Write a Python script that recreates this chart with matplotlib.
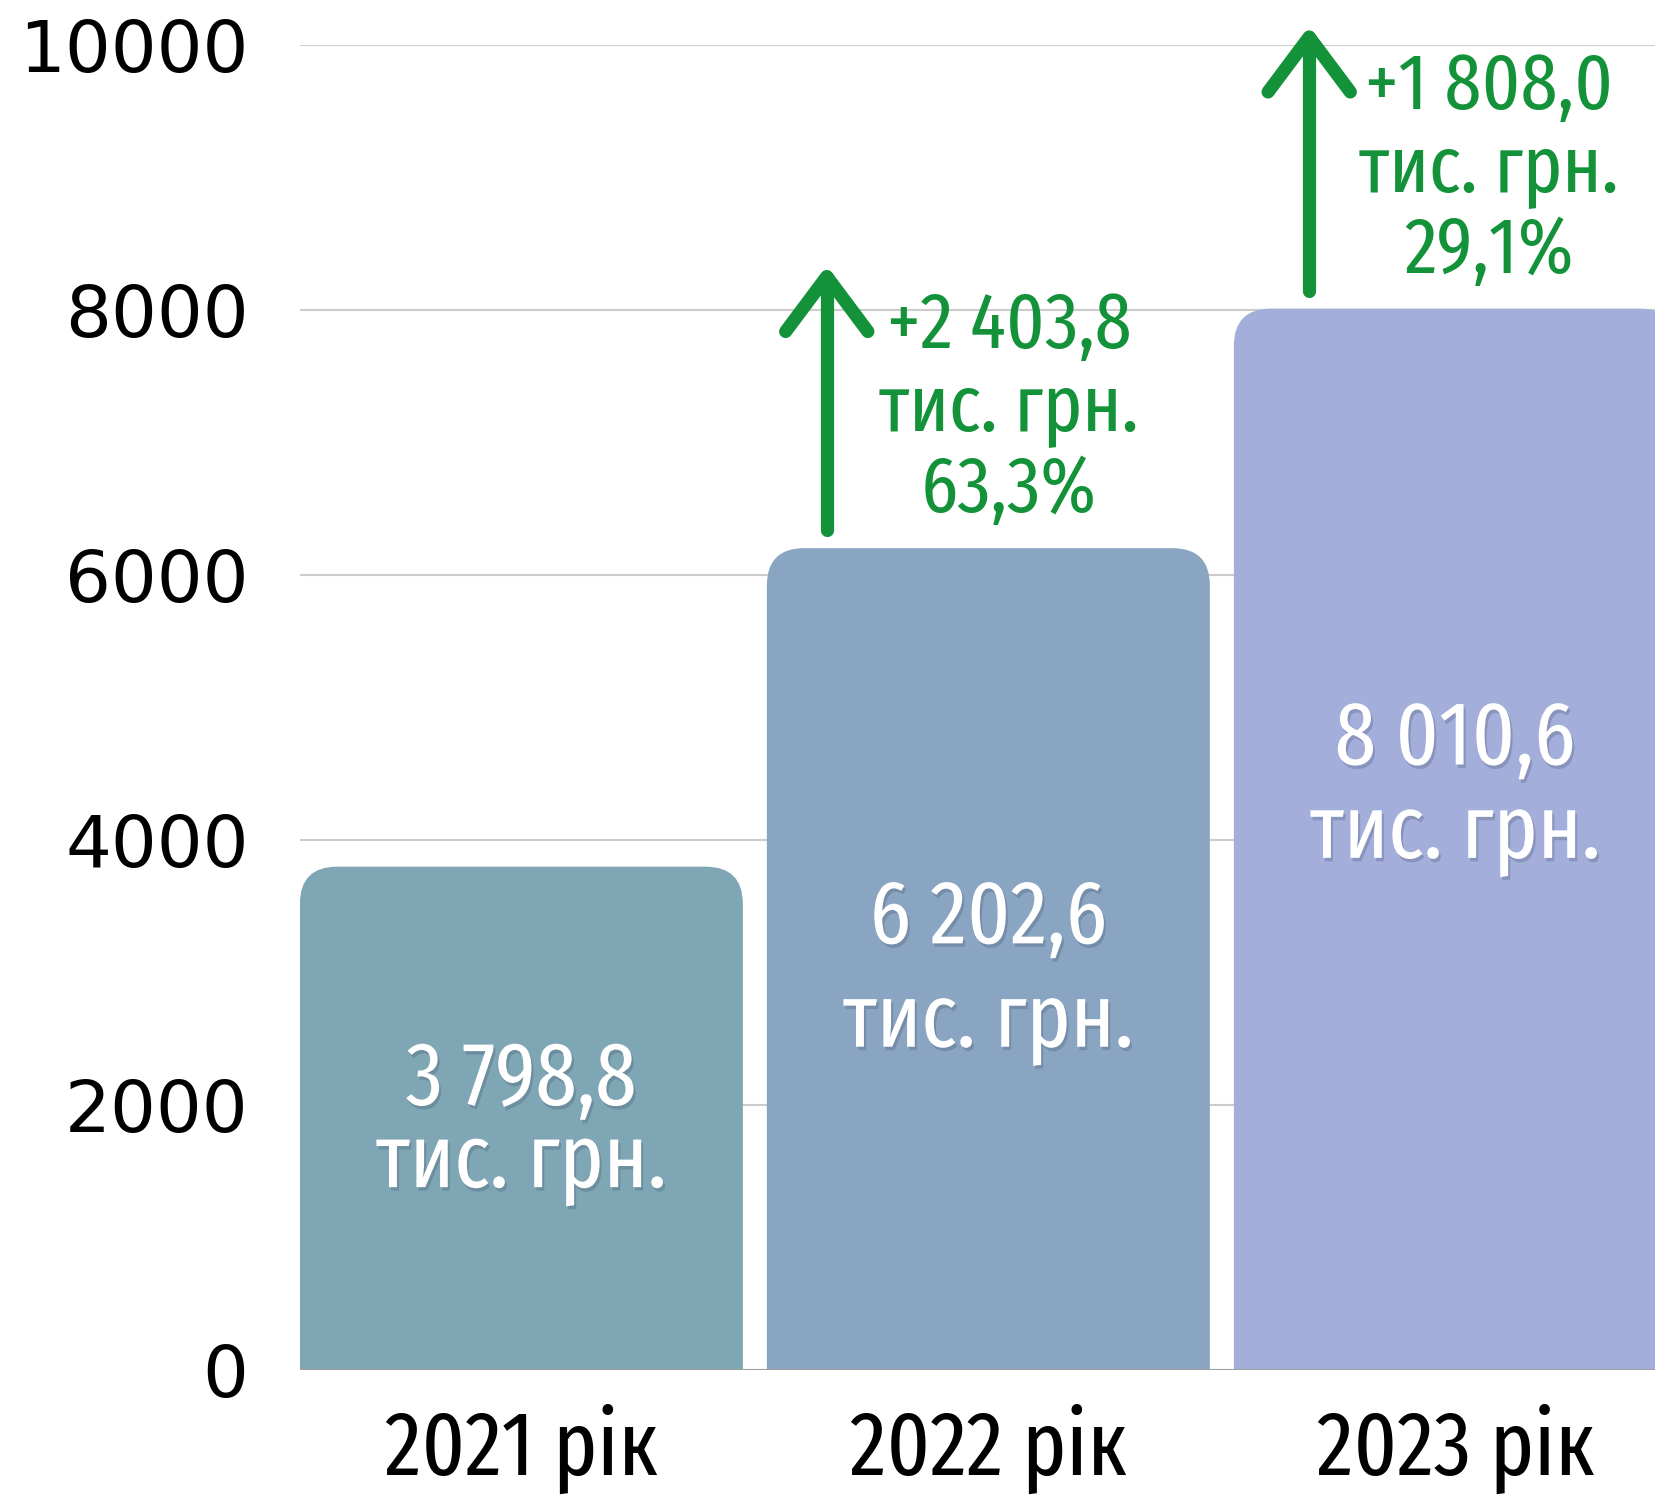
import matplotlib
matplotlib.use("Agg")
import matplotlib.pyplot as plt
import matplotlib.patheffects as pe
from matplotlib.patches import FancyBboxPatch

# дані
years = ["2021 рік", "2022 рік", "2023 рік"]
values = [3798.8, 6202.6, 8010.6]
value_labels = ["3 798,8", "6 202,6", "8 010,6"]
growth_abs = ["+2 403,8", "+1 808,0"]
growth_pct = ["63,3%", "29,1%"]
yticks = [0, 2000, 4000, 6000, 8000, 10000]

bar_colors = ["#7fa6b4", "#8aa5c2", "#a3aedb"]
green = "#13923a"
narrow = ["Fira Sans Extra Condensed", "Fira Sans Condensed", "PT Sans Narrow", "DejaVu Sans"]

W, H = 1656, 1495
fig = plt.figure(figsize=(W / 100, H / 100), dpi=100)
ax = fig.add_axes([300 / W, (H - 1370) / H, 1 - 300 / W, (1370 - 45) / H])

step = 467.0                 # пікселів між центрами стовпців
ax.set_ylim(0, 10000)
ax.set_xlim(-0.474, -0.474 + (W - 300) / step)
bar_w = 443 / step
upp = 10000 / 1325           # одиниць y на піксель
aspect = upp * step

# сітка
ax.set_yticks(yticks)
ax.set_yticklabels([str(t) for t in yticks], fontsize=52, family="DejaVu Sans")
ax.grid(axis="y", color="#cccccc", lw=1.5)
ax.set_axisbelow(True)
ax.tick_params(axis="y", length=0, pad=37)
ax.set_xticks(range(len(years)))
ax.set_xticklabels(years, fontsize=65, family=narrow)
ax.tick_params(axis="x", length=0, pad=24)
for s in ax.spines.values():
    s.set_visible(False)

# стовпці із заокругленим верхом
for i, (v, c) in enumerate(zip(values, bar_colors)):
    p = FancyBboxPatch((i - bar_w / 2, -800), bar_w, v + 800,
                       boxstyle="round,pad=0,rounding_size=0.08",
                       mutation_aspect=aspect, fc=c, ec="none", zorder=2)
    ax.add_patch(p)
ax.axhline(0, color="#a0a0a0", lw=1.5, zorder=3)

# підписи значень
line1_y = [2000, 3220, 4570]
line2_y = [1380, 2440, 3865]
shadow = [pe.SimplePatchShadow(offset=(1.5, -2.5), shadow_rgbFace="#2a3a50", alpha=0.22), pe.Normal()]
for i, lab in enumerate(value_labels):
    ax.text(i, line1_y[i], lab, ha="center", va="baseline", color="white",
            fontsize=65, family=narrow, path_effects=shadow, zorder=4)
    ax.text(i, line2_y[i], "тис. грн.", ha="center", va="baseline", color="white",
            fontsize=65, family=narrow, path_effects=shadow, zorder=4)

# стрілки приросту
arrow_dx = [-0.346, -0.313]
text_dx = [0.044, 0.072]
for k, (ga, gp) in enumerate(zip(growth_abs, growth_pct)):
    i = k + 1
    v = values[i]
    ax_x = i + arrow_dx[k]
    bottom, top = v + 135, v + 2050
    ax.plot([ax_x, ax_x], [bottom, top], color=green, lw=9.5,
            solid_capstyle="round", clip_on=False, zorder=5)
    ax.plot([ax_x - 0.088, ax_x, ax_x + 0.088], [top - 415, top, top - 415],
            color=green, lw=9.5, solid_capstyle="round", solid_joinstyle="round",
            clip_on=False, zorder=5)
    tx = i + text_dx[k]
    ax.text(tx, v + 1509, ga, ha="center", va="baseline", color=green,
            fontsize=58, family=narrow, clip_on=False)
    ax.text(tx, v + 890, "тис. грн.", ha="center", va="baseline", color=green,
            fontsize=58, family=narrow, clip_on=False)
    ax.text(tx, v + 272, gp, ha="center", va="baseline", color=green,
            fontsize=58, family=narrow, clip_on=False)

fig.savefig("out.png", dpi=100)
